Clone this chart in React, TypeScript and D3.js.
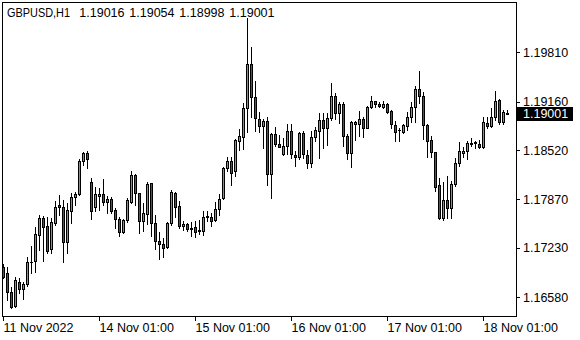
import React from 'react';
import * as d3 from 'd3';

const symbolLabel = 'GBPUSD,H1';
const ohlcLabel = ['1.19016', '1.19054', '1.18998', '1.19001'];
const lastPrice = 1.19001;

const opens = [
  1.16981, 1.16895, 1.16645, 1.16467, 1.16788, 1.16687, 1.16753, 1.17043, 1.17064, 1.17403,
  1.17623, 1.17521, 1.17214, 1.17564, 1.17798, 1.17768, 1.17315, 1.17719, 1.17900, 1.17943,
  1.18382, 1.18487, 1.18098, 1.17768, 1.17921, 1.17943, 1.17842, 1.17877, 1.17732, 1.17613,
  1.17439, 1.17600, 1.17842, 1.18193, 1.17953, 1.17591, 1.17679, 1.18085, 1.17564, 1.17324,
  1.17280, 1.17241, 1.17557, 1.17953, 1.17785, 1.17525, 1.17543, 1.17477, 1.17512, 1.17452,
  1.17460, 1.17636, 1.17644, 1.17604, 1.17745, 1.17891, 1.18285, 1.18382, 1.18242, 1.18646,
  1.18699, 1.19073, 1.19656, 1.19218, 1.18927, 1.18843, 1.18905, 1.18202, 1.18730, 1.18598,
  1.18466, 1.18580, 1.18774, 1.18457, 1.18427, 1.18751, 1.18457, 1.18348, 1.18691, 1.18778,
  1.18918, 1.18817, 1.18941, 1.19235, 1.19007, 1.19129, 1.18708, 1.18480, 1.18861, 1.18865,
  1.18927, 1.18817, 1.19086, 1.19165, 1.19129, 1.19094, 1.19129, 1.19037, 1.18852, 1.18787,
  1.18765, 1.18839, 1.18954, 1.19086, 1.19323, 1.19235, 1.18852, 1.18655, 1.18493, 1.18062,
  1.17623, 1.17864, 1.17755, 1.18071, 1.18348, 1.18487, 1.18510, 1.18602, 1.18625, 1.18598,
  1.18567, 1.18882, 1.18839, 1.18954, 1.19182, 1.18896, 1.19016,
];
const highs = [
  1.17020, 1.16981, 1.16722, 1.16853, 1.16836, 1.16788, 1.17117, 1.17258, 1.17512, 1.17666,
  1.17653, 1.17644, 1.17623, 1.17855, 1.17930, 1.17864, 1.17824, 1.17953, 1.17974, 1.18400,
  1.18501, 1.18510, 1.18150, 1.18040, 1.18023, 1.18136, 1.17917, 1.17900, 1.17755, 1.17644,
  1.17609, 1.17891, 1.18246, 1.18206, 1.17960, 1.17821, 1.18106, 1.18092, 1.17666, 1.17447,
  1.17360, 1.17578, 1.17996, 1.17966, 1.17855, 1.17591, 1.17560, 1.17570, 1.17591, 1.17600,
  1.17723, 1.17715, 1.17689, 1.17834, 1.17943, 1.18295, 1.18434, 1.18427, 1.18668, 1.18800,
  1.19139, 1.20262, 1.19874, 1.19433, 1.19028, 1.18927, 1.18962, 1.18751, 1.18830, 1.18721,
  1.18677, 1.18865, 1.18865, 1.18510, 1.18765, 1.18774, 1.18523, 1.18778, 1.18830, 1.19007,
  1.19014, 1.19007, 1.19410, 1.19271, 1.19152, 1.19152, 1.18730, 1.18905, 1.18909, 1.19037,
  1.18962, 1.19103, 1.19235, 1.19173, 1.19160, 1.19173, 1.19146, 1.19050, 1.18905, 1.18809,
  1.18865, 1.19028, 1.19152, 1.19367, 1.19564, 1.19292, 1.18861, 1.18708, 1.18501, 1.18150,
  1.18106, 1.18173, 1.18115, 1.18413, 1.18633, 1.18567, 1.18642, 1.18677, 1.18646, 1.18655,
  1.18954, 1.18954, 1.19073, 1.19301, 1.19191, 1.19050, 1.19054,
];
const lows = [
  1.16836, 1.16546, 1.16437, 1.16458, 1.16638, 1.16555, 1.16731, 1.16901, 1.16919, 1.17205,
  1.17064, 1.17162, 1.17162, 1.17534, 1.17666, 1.17051, 1.17169, 1.17564, 1.17798, 1.17930,
  1.18325, 1.18282, 1.17613, 1.17723, 1.17732, 1.17798, 1.17696, 1.17689, 1.17491, 1.17394,
  1.17426, 1.17574, 1.17821, 1.17798, 1.17433, 1.17456, 1.17547, 1.17390, 1.17214, 1.17082,
  1.17117, 1.17228, 1.17534, 1.17636, 1.17491, 1.17469, 1.17456, 1.17390, 1.17381, 1.17416,
  1.17407, 1.17591, 1.17525, 1.17583, 1.17670, 1.17877, 1.18250, 1.18066, 1.18184, 1.18523,
  1.18536, 1.18757, 1.18958, 1.18767, 1.18765, 1.18546, 1.18062, 1.17887, 1.18576, 1.18556,
  1.18457, 1.18466, 1.18414, 1.18316, 1.18400, 1.18422, 1.18290, 1.18303, 1.18646, 1.18418,
  1.18546, 1.18589, 1.18918, 1.18931, 1.18875, 1.18576, 1.18400, 1.18303, 1.18655, 1.18708,
  1.18691, 1.18809, 1.19073, 1.19086, 1.19086, 1.19081, 1.19014, 1.18809, 1.18646, 1.18646,
  1.18751, 1.18787, 1.18896, 1.18896, 1.19139, 1.18668, 1.18435, 1.18435, 1.17987, 1.17609,
  1.17600, 1.17627, 1.17631, 1.18049, 1.18312, 1.18427, 1.18400, 1.18576, 1.18554, 1.18546,
  1.18554, 1.18809, 1.18830, 1.18918, 1.18861, 1.18861, 1.18998,
];
const closes = [
  1.16849, 1.16645, 1.16458, 1.16810, 1.16687, 1.16753, 1.17043, 1.17051, 1.17416, 1.17623,
  1.17512, 1.17196, 1.17570, 1.17776, 1.17768, 1.17315, 1.17732, 1.17900, 1.17943, 1.18382,
  1.18487, 1.18400, 1.17723, 1.17943, 1.17943, 1.17842, 1.17877, 1.17723, 1.17609, 1.17439,
  1.17600, 1.17864, 1.18193, 1.17953, 1.17591, 1.17689, 1.18075, 1.17564, 1.17324, 1.17280,
  1.17236, 1.17564, 1.17966, 1.17776, 1.17525, 1.17543, 1.17477, 1.17491, 1.17439, 1.17469,
  1.17636, 1.17657, 1.17591, 1.17745, 1.17877, 1.18285, 1.18374, 1.18216, 1.18655, 1.18712,
  1.19073, 1.19656, 1.19218, 1.18941, 1.18843, 1.18905, 1.18202, 1.18730, 1.18598, 1.18567,
  1.18580, 1.18774, 1.18466, 1.18427, 1.18751, 1.18466, 1.18348, 1.18691, 1.18787, 1.18918,
  1.18817, 1.18941, 1.19235, 1.19007, 1.19129, 1.18708, 1.18480, 1.18888, 1.18888, 1.18927,
  1.18817, 1.19094, 1.19169, 1.19129, 1.19103, 1.19129, 1.19028, 1.18861, 1.18765, 1.18780,
  1.18852, 1.18954, 1.19086, 1.19323, 1.19239, 1.18852, 1.18646, 1.18501, 1.18040, 1.17623,
  1.17864, 1.17755, 1.18071, 1.18348, 1.18510, 1.18510, 1.18619, 1.18619, 1.18615, 1.18567,
  1.18888, 1.18843, 1.18954, 1.19169, 1.18896, 1.19020, 1.19001,
];

const yTicks = [1.1981, 1.1916, 1.1852, 1.1787, 1.1723, 1.1658];
const xTickIndex = [0, 24, 48, 72, 96, 120];
const xTickLabels = ['11 Nov 2022', '14 Nov 01:00', '15 Nov 01:00', '16 Nov 01:00', '17 Nov 01:00', '18 Nov 01:00'];

const BULL = '#32cd32';
const BEAR = '#d41e1e';
const FONT = '"Liberation Sans", Arial, sans-serif';

export default function App() {
  const W = 580;
  const H = 340;
  const frame = { left: 2, top: 2, right: 516, bottom: 316 };
  const x = d3.scaleLinear().domain([0, 1]).range([3.5, 7.5]);
  const y = d3.scaleLinear().domain([1.1658, 1.1981]).range([297.3, 52.3]);

  const candles = opens.map((o, i) => ({ o, h: highs[i], l: lows[i], c: closes[i], i }));
  const lastY = Math.round(y(lastPrice));

  return (
    <svg
      width={W}
      height={H}
      style={{ position: 'absolute', left: 0, top: 0, background: '#fff' }}
      fontFamily={FONT}
    >
      <rect x={0} y={0} width={W} height={H} fill="#fff" />
      <g shapeRendering="crispEdges">
        {candles.map((d) => {
          const cx = x(d.i);
          const yh = Math.round(y(d.h));
          const yl = Math.round(y(d.l));
          const yt = Math.round(y(Math.max(d.o, d.c)));
          const yb = Math.round(y(Math.min(d.o, d.c)));
          const bull = d.c >= d.o;
          return (
            <g key={d.i}>
              <line x1={cx} x2={cx} y1={yh} y2={yl + 1} stroke="#000" strokeWidth={1} />
              {yb - yt < 1 ? (
                <line x1={cx - 1.5} x2={cx + 1.5} y1={yt + 0.5} y2={yt + 0.5} stroke="#000" strokeWidth={1} />
              ) : (
                <rect
                  x={cx - 1}
                  y={yt + 0.5}
                  width={2}
                  height={yb - yt}
                  fill={bull ? BULL : BEAR}
                  stroke="#000"
                  strokeWidth={1}
                />
              )}
            </g>
          );
        })}
        <rect
          x={frame.left + 0.5}
          y={frame.top + 0.5}
          width={frame.right - frame.left}
          height={frame.bottom - frame.top}
          fill="none"
          stroke="#000"
          strokeWidth={1}
        />
        {yTicks.map((t) => {
          const ty = Math.round(y(t)) + 0.5;
          return <line key={t} x1={frame.right} x2={frame.right + 4} y1={ty} y2={ty} stroke="#000" />;
        })}
        {xTickIndex.map((idx) => {
          const tx = x(idx);
          return <line key={idx} x1={tx} x2={tx} y1={frame.bottom} y2={frame.bottom + 5} stroke="#000" />;
        })}
      </g>
      {yTicks.map((t) => (
        <text key={t} x={523} y={y(t) + 4.5} fontSize={12.5} fill="#000">
          {t.toFixed(5)}
        </text>
      ))}
      {xTickIndex.map((idx, k) => (
        <text key={idx} x={x(idx)} y={332} fontSize={12.5} fill="#000">
          {xTickLabels[k]}
        </text>
      ))}
      <g>
        <rect x={517} y={lastY - 7} width={56} height={14} fill="#000" shapeRendering="crispEdges" />
        <text x={523} y={y(lastPrice) + 4.5} fontSize={12.5} fill="#fff">
          {lastPrice.toFixed(5)}
        </text>
      </g>
      <text x={7} y={17} fontSize={12.5} fill="#000" textLength={63} lengthAdjust="spacingAndGlyphs">
        {symbolLabel}
      </text>
      {ohlcLabel.map((v, k) => (
        <text key={k} x={79.3 + 50 * k} y={17} fontSize={12.5} fill="#000">
          {v}
        </text>
      ))}
    </svg>
  );
}
